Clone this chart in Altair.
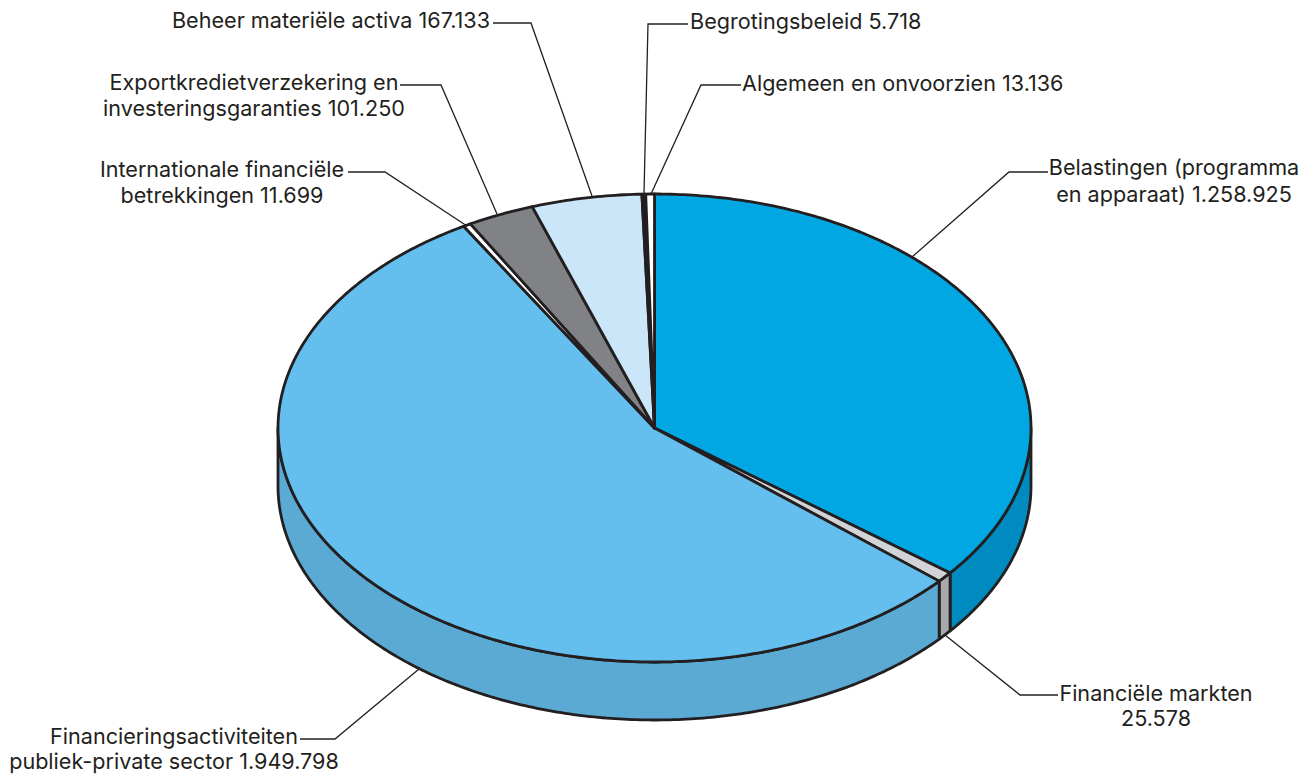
import numpy as np
import pandas as pd
import altair as alt

# ---- data
names = ["Belastingen", "Financiële markten", "Financieringsactiviteiten",
         "Internationale financiële betrekkingen", "Exportkredietverzekering",
         "Beheer materiële activa", "Begrotingsbeleid", "Algemeen en onvoorzien"]
values = [1258925, 25578, 1949798, 11699, 101250, 167133, 5718, 13136]
top_colors = ["#00a7e3", "#d1d3d6", "#64bfee", "#ffffff", "#808285", "#cce6f9", "#231f20", "#ffffff"]
side_colors = ["#008bc0", "#a7a9ac", "#5aaad4", "#ffffff", "#808285", "#cce6f9", "#231f20", "#ffffff"]

label_lines = ["Belastingen (programma", "en apparaat) 1.258.925",
               "Financiële markten", "25.578",
               "Financieringsactiviteiten", "publiek-private sector 1.949.798",
               "Internationale financiële", "betrekkingen 11.699",
               "Exportkredietverzekering en", "investeringsgaranties 101.250",
               "Beheer materiële activa 167.133",
               "Begrotingsbeleid 5.718",
               "Algemeen en onvoorzien 13.136"]

# ---- layout (page pixels)
CX, CY, RX, RY, DEPTH = 654.5, 428.0, 376.5, 234.0, 58.0
label_x = [1174, 1174, 1156, 1156, 174, 174, 222, 222, 254, 254, 490, 690, 742]
label_y = [169, 196, 695, 720, 738, 763, 171, 197, 84, 110, 22, 23, 85]
label_align = ["center"] * 10 + ["right", "left", "left"]
leader_paths = [
    [(1048, 172), (1009, 172), (912, 257)],
    [(1058, 695), (1020, 695), (945, 635)],
    [(300, 739), (335, 739), (419, 669)],
    [(348, 172), (385, 172), (467, 226)],
    [(400, 85), (441, 85), (497, 214)],
    [(493, 23), (531, 23), (592, 196)],
    [(688, 24), (648, 24), (644, 193)],
    [(741, 85), (701, 85), (651, 194)],
]

# ---- geometry derived from the values
total = sum(values)
edges = np.concatenate([[0], np.cumsum(values)]) / total * 2 * np.pi


def ex(t):
    return CX + RX * np.sin(t)


def ey(t, dz=0.0):
    return CY - RY * np.cos(t) + dz


top_rows, side_rows = [], []
for i, name in enumerate(names):
    t0, t1 = edges[i], edges[i + 1]
    arc = np.linspace(t0, t1, max(3, int((t1 - t0) * 90)))
    xs = [CX] + list(ex(arc))
    ys = [CY] + list(ey(arc))
    for k, (px, py) in enumerate(zip(xs, ys)):
        top_rows.append(dict(part=f"t{i}", x=px, y=py, k=k))
    a, b = max(t0, np.pi / 2), min(t1, 3 * np.pi / 2)
    if b > a:
        arc = np.linspace(a, b, max(3, int((b - a) * 90)))
        xs = list(ex(arc)) + list(ex(arc[::-1]))
        ys = list(ey(arc)) + list(ey(arc[::-1], DEPTH))
        for k, (px, py) in enumerate(zip(xs, ys)):
            side_rows.append(dict(part=f"s{i}", x=px, y=py, k=k))

domain = [f"s{i}" for i in range(len(names))] + [f"t{i}" for i in range(len(names))]
rng = side_colors + top_colors

INK = "#231f20"
xs = alt.Scale(domain=[8, 1299], nice=False, zero=False)
ys = alt.Scale(domain=[775, 8], nice=False, zero=False)
X = alt.X("x:Q", scale=xs, axis=None)
Y = alt.Y("y:Q", scale=ys, axis=None)

layers = []
for frame in (pd.DataFrame(side_rows), pd.DataFrame(top_rows)):
    layers.append(
        alt.Chart(frame).mark_line(interpolate="linear-closed", stroke=INK, strokeWidth=2.8,
                                   strokeJoin="round", clip=False).encode(
            x=X, y=Y, order="k:Q",
            fill=alt.Fill("part:N", scale=alt.Scale(domain=domain, range=rng), legend=None),
            detail="part:N",
        )
    )

leader_df = pd.DataFrame([dict(id=i, k=k, x=p[0], y=p[1])
                          for i, path in enumerate(leader_paths) for k, p in enumerate(path)])
leaders = alt.Chart(leader_df).mark_line(stroke=INK, strokeWidth=1.3, clip=False).encode(
    x=X, y=Y, order="k:Q", detail="id:N")

label_df = pd.DataFrame(dict(text=label_lines, x=label_x, y=label_y, a=label_align))
for al in ("center", "right", "left"):
    layers.append(
        alt.Chart(label_df[label_df.a == al]).mark_text(
            align=al, baseline="middle", font="Inter", fontSize=21.6, color=INK).encode(
            x=X, y=Y, text="text:N")
    )
layers.insert(2, leaders)

chart = alt.layer(*layers).properties(
    width=1291, height=767, padding=0, autosize=alt.AutoSizeParams(type="none")
).resolve_scale(fill="shared").configure_view(stroke=None)

chart.save("out.html", embed_options={"renderer": "svg", "actions": False})
